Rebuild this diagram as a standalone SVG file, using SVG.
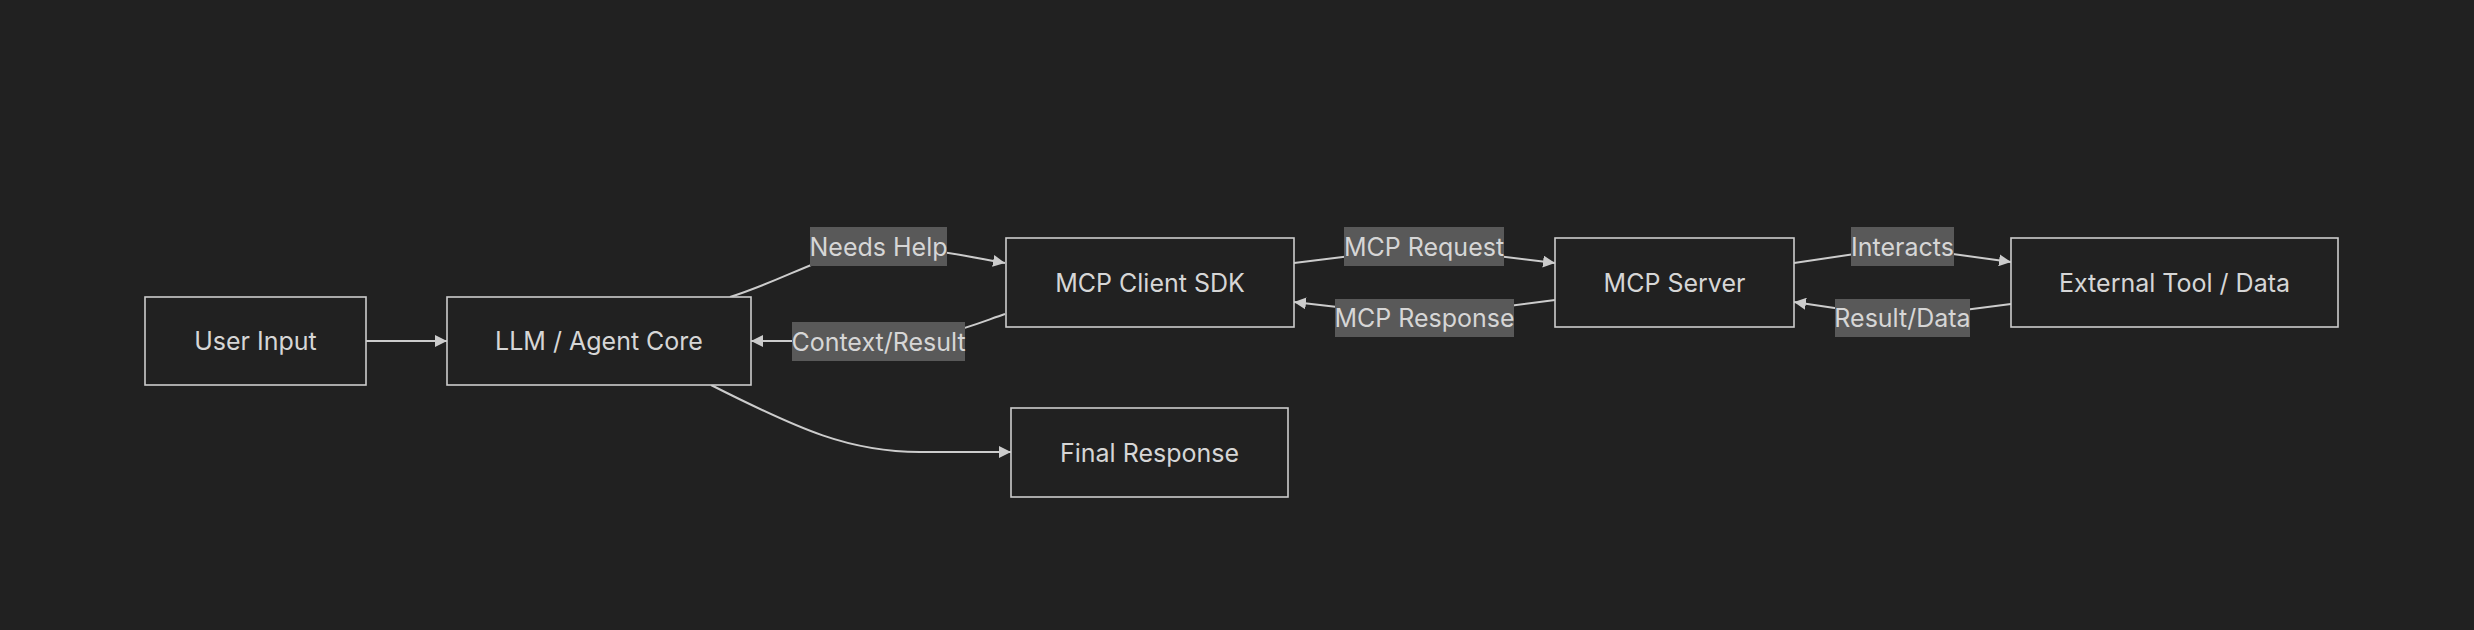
<svg xmlns="http://www.w3.org/2000/svg" width="2474" height="630" viewBox="0 0 2474 630">
<defs>
<marker id="arr" viewBox="0 0 12 12" refX="12" refY="6" markerWidth="12" markerHeight="12" markerUnits="userSpaceOnUse" orient="auto">
<path d="M0,0 L12,6 L0,12 z" fill="#cccccc"/>
</marker>
<style>
.node rect{fill:#212121;stroke:#cccccc;stroke-width:1.6}
.node text,.lbl text{font-family:Inter,"Liberation Sans",sans-serif;font-size:25px;fill:#d6d6d6;text-anchor:middle;dominant-baseline:central}
.edge{fill:none;stroke:#cccccc;stroke-width:2}
.lbl rect{fill:#595959}
</style>
</defs>
<rect width="2474" height="630" fill="#212121"/>
<g id="connectors">
<path class="edge" d="M366,341 L447,341" marker-end="url(#arr)"/>
<path class="edge" d="M730,297 C790,278 830,250 878,247 C920,246 960,255 1005,263" marker-end="url(#arr)"/>
<path class="edge" d="M1005,314 C975,324 940,341 878,341 L751,341" marker-end="url(#arr)"/>
<path class="edge" d="M1294,263 L1424,247 L1555,263" marker-end="url(#arr)"/>
<path class="edge" d="M1555,300 L1424,317 L1294,302" marker-end="url(#arr)"/>
<path class="edge" d="M1794,263 L1902,247 L2011,262" marker-end="url(#arr)"/>
<path class="edge" d="M2011,304 L1902,318 L1794,302" marker-end="url(#arr)"/>
<path class="edge" d="M711,385 C800,430 850,452 920,452 L1011,452" marker-end="url(#arr)"/>
<g class="lbl"><rect x="810" y="227" width="137" height="39"/><text x="878.5" y="246.5">Needs Help</text></g>
<g class="lbl"><rect x="792" y="322" width="173" height="39"/><text x="878.5" y="341.5">Context/Result</text></g>
<g class="lbl"><rect x="1344" y="227" width="160" height="39"/><text x="1424" y="246.5">MCP Request</text></g>
<g class="lbl"><rect x="1335" y="299" width="179" height="38"/><text x="1424.5" y="318">MCP Response</text></g>
<g class="lbl"><rect x="1851" y="227" width="103" height="39"/><text x="1902.5" y="246.5">Interacts</text></g>
<g class="lbl"><rect x="1835" y="299" width="135" height="38"/><text x="1902.5" y="318">Result/Data</text></g>
</g>
<g id="user-input" class="node"><rect x="145" y="297" width="221" height="88"/><text x="255.5" y="341">User Input</text></g>
<g id="llm" class="node"><rect x="447" y="297" width="304" height="88"/><text x="599" y="341">LLM / Agent Core</text></g>
<g id="mcp-client" class="node"><rect x="1006" y="238" width="288" height="89"/><text x="1150" y="282.5">MCP Client SDK</text></g>
<g id="mcp-server" class="node"><rect x="1555" y="238" width="239" height="89"/><text x="1674.5" y="282.5">MCP Server</text></g>
<g id="external" class="node"><rect x="2011" y="238" width="327" height="89"/><text x="2174.5" y="282.5">External Tool / Data</text></g>
<g id="final-response" class="node"><rect x="1011" y="408" width="277" height="89"/><text x="1149.5" y="452.5">Final Response</text></g>
</svg>
